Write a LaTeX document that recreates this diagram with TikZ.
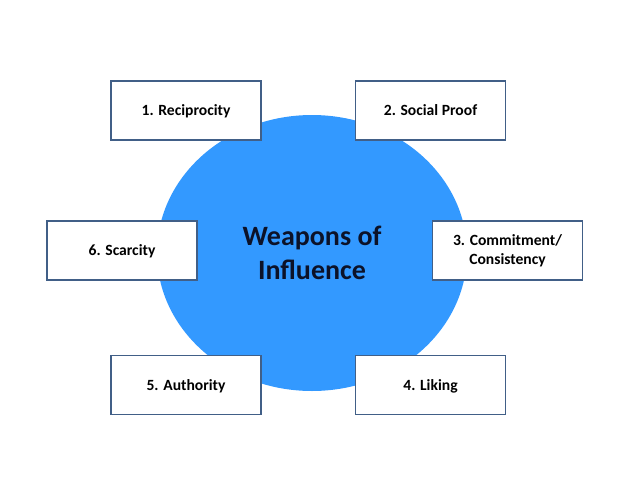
\documentclass[tikz,border=0pt]{standalone}
\usepackage{fontspec}
\setmainfont{Carlito}
\usetikzlibrary{shapes.geometric}
\definecolor{hubblue}{RGB}{51,153,255}
\definecolor{boxline}{RGB}{65,95,135}
\definecolor{hubtext}{RGB}{12,18,40}
\tikzset{
  hub/.style={ellipse, fill=hubblue, draw=none, minimum width=310pt, minimum height=276pt,
    inner sep=0pt, align=center, text=hubtext,
    font=\fontsize{28}{33.5}\selectfont\bfseries},
  weapon/.style={rectangle, draw=boxline, line width=1.2pt, fill=white,
    minimum width=150pt, minimum height=59pt, inner sep=0pt, align=center,
    font=\fontsize{15.6}{19}\selectfont\bfseries},
  oneline/.style={text height=13pt, text depth=3pt}
}
\begin{document}
\begin{tikzpicture}[x=1pt,y=-1pt]
\useasboundingbox (0,0) rectangle (638,479);
\fill[white] (0,0) rectangle (638,479);
\node[hub] (hub) at (312,253) {Weapons of\\Influence};
\node[weapon, oneline] (recip) at (186,110.5) {1. Reciprocity};
\node[weapon, oneline] (proof) at (430.5,110.5) {2. Social Proof};
\node[weapon] (commit) at (507.5,250.5) {3. Commitment/\\Consistency};
\node[weapon, oneline] (liking) at (430.5,385) {4. Liking};
\node[weapon, oneline] (auth) at (186,385) {5. Authority};
\node[weapon, oneline] (scarce) at (122,250.5) {6. Scarcity};
\end{tikzpicture}
\end{document}
